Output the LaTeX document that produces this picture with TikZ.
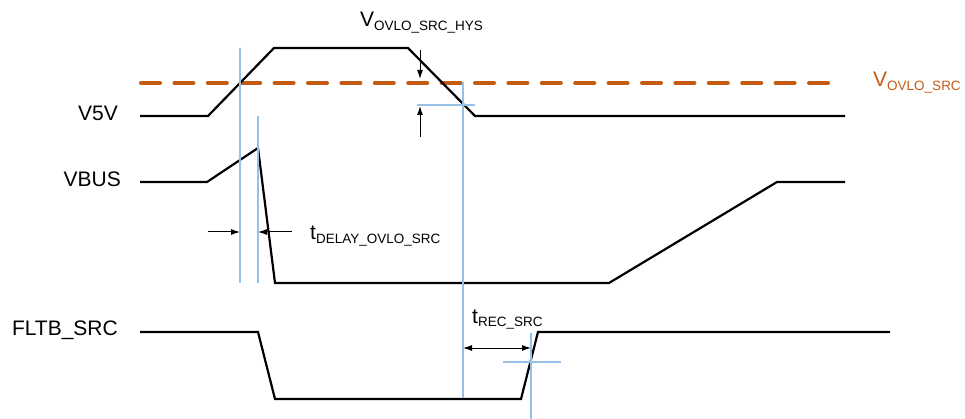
\documentclass[tikz,border=0pt]{standalone}
\usepackage{fontspec}
\setmainfont{Liberation Sans}
\usetikzlibrary{arrows.meta}
\definecolor{myorange}{RGB}{197, 90, 17}
\definecolor{myblue}{RGB}{150, 192, 230}
\tikzset{>={Latex[length=9pt,width=6pt]}}
\newcommand{\siglabel}[2]{{\fontsize{21}{21}\selectfont #1}{\fontsize{13.5}{14}\selectfont\raisebox{-3.5pt}{#2}}}
\tikzset{
  trace/.style={line width=2.2pt, line join=miter},
  guide/.style={myblue, line width=1.4pt},
  dim/.style={line width=1pt},
  lbl/.style={inner sep=0pt, font=\fontsize{21}{21}\selectfont}
}

\begin{document}
\begin{tikzpicture}[x=1pt, y=-1pt]
\useasboundingbox (0,0) rectangle (965,419);
% threshold
\draw[myorange, line width=4pt, line cap=round, dash pattern=on 19pt off 14.4pt] (141,83) -- (830,83);
\node[lbl, anchor=base west, text=myorange] (vovlo) at (873,87) {\siglabel{V}{OVLO\_SRC}};
% V5V
\node[lbl, anchor=base east] (v5v) at (118,121) {V5V};
\draw[trace] (140,116) -- (208,116) -- (274,48) -- (408,48) -- (475,116) -- (845,116);
% VBUS
\node[lbl, anchor=base east] (vbus) at (121,187) {VBUS};
\draw[trace] (140,182) -- (207,182) -- (258,148) -- (275,283) -- (609,283) -- (777,182) -- (845,182);
% FLTB_SRC
\node[lbl, anchor=base east] (fltb) at (118,335) {FLTB\_SRC};
\draw[trace] (140,332) -- (258,332) -- (275,399) -- (521,399) -- (538,332) -- (890,332);
% guides
\begin{scope}[guide]
\draw (240,48) -- (240,283);
\draw (258,116) -- (258,283);
\draw (463,82) -- (463,398);
\draw (417,105) -- (475,105);
\draw (531,333) -- (531,419);
\draw (503,362) -- (561,362);
\end{scope}
% hysteresis
\coordinate (hysa) at (420,50);
\coordinate (hysb) at (420,79);
\coordinate (hysc) at (420,137);
\coordinate (hysd) at (420,106);
\draw[dim, ->] (hysa) -- (hysb);
\draw[dim, ->] (hysc) -- (hysd);
\node[lbl, anchor=base west] (vhys) at (360,27) {\siglabel{V}{OVLO\_SRC\_HYS}};
% delay
\coordinate (dla) at (208,232);
\coordinate (dlb) at (240,232);
\coordinate (dlc) at (292,232);
\coordinate (dld) at (258,232);
\draw[dim, ->] (dla) -- (dlb);
\draw[dim, ->] (dlc) -- (dld);
\node[lbl, anchor=base west] (tdelay) at (310,240) {\siglabel{t}{DELAY\_OVLO\_SRC}};
% recovery
\coordinate (reca) at (463,348);
\coordinate (recb) at (531,348);
\draw[dim, <->] (reca) -- (recb);
\node[lbl, anchor=base west] (trec) at (472,323) {\siglabel{t}{REC\_SRC}};
\end{tikzpicture}
\end{document}
